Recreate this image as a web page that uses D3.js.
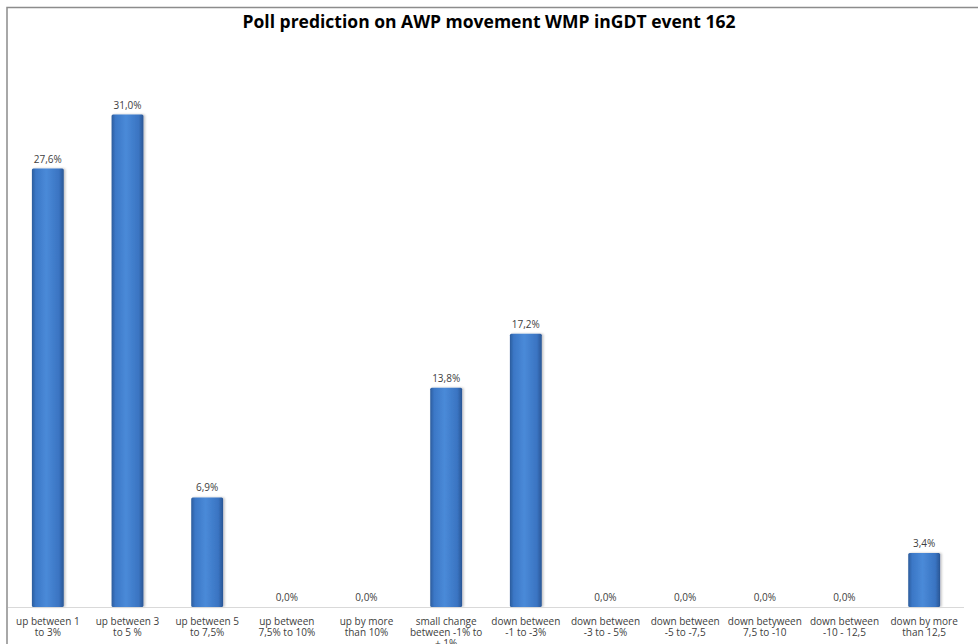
<!DOCTYPE html>
<html>
<head>
<meta charset="utf-8">
<script src="https://cdn.jsdelivr.net/npm/d3@7"></script>
<style>
  body { margin: 0; background: #fff; }
  svg { display: block; font-family: "Open Sans", "DejaVu Sans", sans-serif; }
</style>
</head>
<body>
<div id="chart"></div>
<script>
const width = 978;
const height = 644;

// data
const categories = [
  ["up between 1", "to 3%"],
  ["up between 3", "to 5 %"],
  ["up between 5", "to 7,5%"],
  ["up between", "7,5% to 10%"],
  ["up by more", "than 10%"],
  ["small change", "between -1% to", "+ 1%"],
  ["down between", "-1 to -3%"],
  ["down between", "-3 to - 5%"],
  ["down between", "-5 to -7,5"],
  ["down betyween", "7,5 to -10"],
  ["down between", "-10 - 12,5"],
  ["down by more", "than 12,5"]
];
const values = [27.6, 31.0, 6.9, 0, 0, 13.8, 17.2, 0, 0, 0, 0, 3.4];
const title = "Poll prediction on AWP movement WMP inGDT event 162";

const margin = { top: 51, left: 8, right: 14, bottom: 37 };

const svg = d3.select("#chart")
  .append("svg")
  .attr("width", width)
  .attr("height", height);

// frame (top + left visible)
svg.append("path")
  .attr("d", `M7,${height} V7.5 H${width}`)
  .attr("fill", "none")
  .attr("stroke", "#8c8c8c")
  .attr("stroke-width", 1.5);

const x = d3.scaleBand()
  .domain(d3.range(categories.length))
  .range([margin.left, width - margin.right])
  .paddingInner(0.6)
  .paddingOuter(0.3);

const y = d3.scaleLinear()
  .domain([0, 35])
  .range([height - margin.bottom, margin.top]);

const defs = svg.append("defs");
const grad = defs.append("linearGradient")
  .attr("id", "barGrad")
  .attr("x1", "0%").attr("x2", "100%")
  .attr("y1", "0%").attr("y2", "0%");
[
  [0, "#2c5c9c"],
  [0.12, "#3b77c6"],
  [0.45, "#4a8ad8"],
  [0.85, "#3a74c2"],
  [1, "#2a5694"]
].forEach(([o, c]) => grad.append("stop").attr("offset", o).attr("stop-color", c));

const filter = defs.append("filter").attr("id", "shadow")
  .attr("x", "-20%").attr("y", "-10%").attr("width", "150%").attr("height", "130%");
filter.append("feDropShadow")
  .attr("dx", 1.5).attr("dy", 0).attr("stdDeviation", 1)
  .attr("flood-color", "#000").attr("flood-opacity", 0.25);

// bars
svg.append("g")
  .selectAll("rect")
  .data(values)
  .join("rect")
  .attr("x", (d, i) => x(i))
  .attr("y", d => y(d))
  .attr("width", x.bandwidth())
  .attr("height", d => y(0) - y(d))
  .attr("rx", 1.5)
  .attr("fill", "url(#barGrad)")
  .attr("filter", "url(#shadow)");

// baseline
svg.append("line")
  .attr("x1", margin.left)
  .attr("x2", width - margin.right)
  .attr("y1", y(0) + 0.5)
  .attr("y2", y(0) + 0.5)
  .attr("stroke", "#d9d9d9")
  .attr("stroke-width", 1);

// value labels
svg.append("g")
  .selectAll("text")
  .data(values)
  .join("text")
  .attr("x", (d, i) => x(i) + x.bandwidth() / 2)
  .attr("y", d => y(d) - 6)
  .attr("text-anchor", "middle")
  .attr("font-size", "10px")
  .attr("fill", "#404040")
  .text(d => d3.format(".1f")(d).replace(".", ",") + "%");

// category labels
const xl = svg.append("g")
  .selectAll("text")
  .data(categories)
  .join("text")
  .attr("x", (d, i) => x(i) + x.bandwidth() / 2)
  .attr("y", y(0) + 18)
  .attr("text-anchor", "middle")
  .attr("font-size", "10px")
  .attr("fill", "#404040");
xl.selectAll("tspan")
  .data(d => d)
  .join("tspan")
  .attr("x", function() { return d3.select(this.parentNode).attr("x"); })
  .attr("dy", (d, i) => i === 0 ? 0 : 11)
  .text(d => d);

// title
svg.append("text")
  .attr("x", 489)
  .attr("y", 28)
  .attr("text-anchor", "middle")
  .attr("font-size", "17.5px")
  .attr("font-weight", "bold")
  .attr("fill", "#000")
  .text(title);
</script>
</body>
</html>
